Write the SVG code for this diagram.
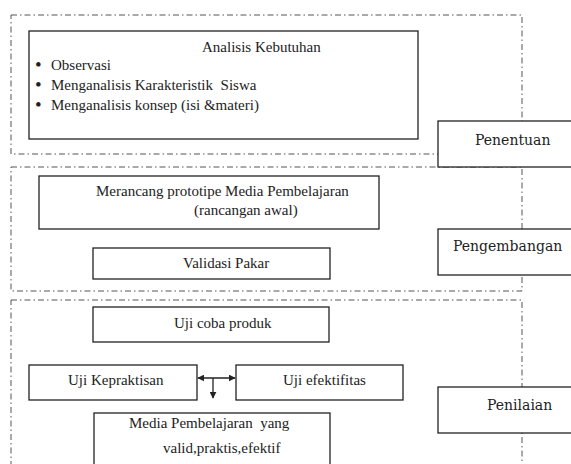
<svg xmlns="http://www.w3.org/2000/svg" width="571" height="464" viewBox="0 0 571 464">
<style>
.bg{fill:#fff}
.phase{fill:none;stroke:#555;stroke-width:1;stroke-dasharray:6 3 1.5 3}
.box{fill:#fff;stroke:#222;stroke-width:1.3}
.t{font-size:15px;fill:#222}
.b{font-size:19px;fill:#222}
.lbl{font-size:14px;fill:#222}
.conn{fill:none;stroke:#222;stroke-width:1.3}
</style>
<defs>
<marker id="ah" viewBox="0 0 10 10" refX="9" refY="5" markerWidth="7" markerHeight="7" orient="auto-start-reverse" markerUnits="userSpaceOnUse">
<path d="M0,0 L10,5 L0,10 z" fill="#222"/>
</marker>
</defs>
<rect class="bg" x="0" y="0" width="571" height="464"/>
<g id="phase-penentuan"><rect class="phase" x="11" y="15" width="511" height="139"/></g>
<g id="phase-pengembangan"><rect class="phase" x="11" y="167" width="511" height="124"/></g>
<g id="phase-penilaian"><rect class="phase" x="11" y="300" width="511" height="180"/></g>

<g font-family="Liberation Serif, Times New Roman, serif">
<g id="analisis">
<rect class="box" x="29" y="31" width="389" height="108"/>
<text class="t" x="202" y="52">Analisis Kebutuhan</text>
<text class="b" x="35" y="71">•</text><text class="t" x="51" y="70">Observasi</text>
<text class="b" x="35" y="91">•</text><text class="t" x="51" y="90" xml:space="preserve">Menganalisis Karakteristik  Siswa</text>
<text class="b" x="35" y="111">•</text><text class="t" x="51" y="110">Menganalisis konsep (isi &amp;materi)</text>
</g>
<g id="merancang">
<rect class="box" x="39" y="176" width="340" height="53"/>
<text class="t" x="96" y="196">Merancang prototipe Media Pembelajaran</text>
<text class="t" x="194" y="215">(rancangan awal)</text>
</g>
<g id="validasi">
<rect class="box" x="93" y="248" width="237" height="31"/>
<text class="t" x="183" y="268">Validasi Pakar</text>
</g>
<g id="ujicoba">
<rect class="box" x="93" y="307" width="236" height="35"/>
<text class="t" x="174" y="328">Uji coba produk</text>
</g>
<g id="kepraktisan">
<rect class="box" x="29" y="365" width="168" height="35"/>
<text class="t" x="68" y="385">Uji Kepraktisan</text>
</g>
<g id="efektifitas">
<rect class="box" x="236" y="365" width="167" height="35"/>
<text class="t" x="283" y="385">Uji efektifitas</text>
</g>
<g id="media">
<rect class="box" x="94" y="413" width="236" height="60"/>
<text class="t" x="129" y="428" xml:space="preserve">Media Pembelajaran  yang</text>
<text class="t" x="163" y="453">valid,praktis,efektif</text>
</g>
</g>

<g font-family="DejaVu Serif, serif">
<g id="penentuan">
<rect class="box" x="438" y="121" width="140" height="46"/>
<text class="lbl" x="475" y="145">Penentuan</text>
</g>
<g id="pengembangan">
<rect class="box" x="438" y="229" width="140" height="46"/>
<text class="lbl" x="453" y="251">Pengembangan</text>
</g>
<g id="penilaian">
<rect class="box" x="438" y="387" width="140" height="46"/>
<text class="lbl" x="487" y="410">Penilaian</text>
</g>
</g>

<g id="connectors">
<line class="conn" x1="198" y1="378" x2="235" y2="378" marker-start="url(#ah)" marker-end="url(#ah)"/>
<line class="conn" x1="213" y1="378" x2="213" y2="398" marker-end="url(#ah)"/>
</g>
</svg>
